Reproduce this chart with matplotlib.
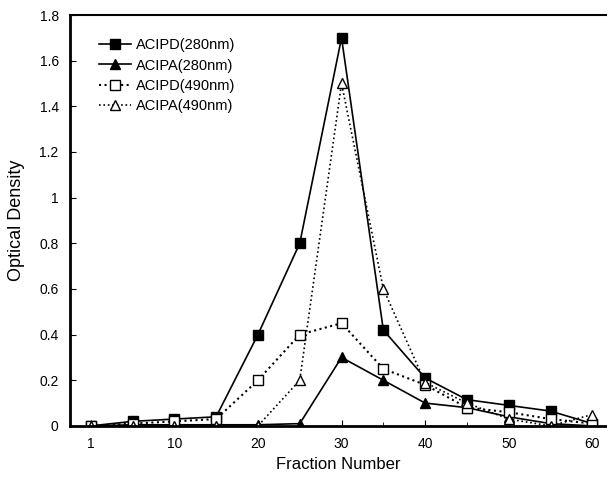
import matplotlib.pyplot as plt

plt.rcParams['font.family'] = ['Liberation Sans', 'DejaVu Sans']

fractions = [1, 5, 10, 15, 20, 25, 30, 35, 40, 45, 50, 55, 60]
tick_labels = ['1', '10', '20', '30', '40', '50', '60']

acipd_280 = [0.0, 0.02, 0.03, 0.04, 0.40, 0.80, 1.70, 0.42, 0.21, 0.115, 0.09, 0.065, 0.01]
acipa_280 = [0.0, 0.005, 0.005, 0.005, 0.005, 0.01, 0.30, 0.20, 0.10, 0.08, 0.04, 0.01, 0.0]
acipd_490 = [0.0, 0.01, 0.02, 0.03, 0.20, 0.40, 0.45, 0.25, 0.18, 0.08, 0.06, 0.03, 0.01]
acipa_490 = [0.0, 0.0, 0.0, 0.0, 0.0, 0.20, 1.50, 0.60, 0.19, 0.10, 0.03, 0.0, 0.05]

fig = plt.figure(figsize=(6.07, 4.84), dpi=100)
ax = fig.add_axes([0.115, 0.12, 0.885, 0.849])

x = list(range(len(fractions)))
ax.plot(x, acipd_280, '-', color='black', lw=1.2, marker='s', ms=7.5,
        mfc='black', label='ACIPD(280nm)')
ax.plot(x, acipa_280, '-', color='black', lw=1.2, marker='^', ms=7.5,
        mfc='black', label='ACIPA(280nm)')
ax.plot(x, acipd_490, ':', color='black', lw=1.5, marker='s', ms=7.5,
        mfc='white', label='ACIPD(490nm)')
ax.plot(x, acipa_490, ':', color='black', lw=1.2, marker='^', ms=7.5,
        mfc='white', label='ACIPA(490nm)')

ax.set_xlim(-0.5, 12.35)
ax.set_ylim(0, 1.8)
ax.set_xticks(x[::2])
ax.set_xticklabels(tick_labels)
ax.set_xticks(x, minor=True)
ax.set_yticks([0, 0.2, 0.4, 0.6, 0.8, 1.0, 1.2, 1.4, 1.6, 1.8])
ax.set_yticklabels(['0', '0.2', '0.4', '0.6', '0.8', '1', '1.2', '1.4', '1.6', '1.8'])
ax.tick_params(direction='in', labelsize=10, length=4, width=0.8)
ax.tick_params(axis='x', which='minor', direction='in', length=3)
ax.tick_params(axis='y', pad=8)
ax.tick_params(axis='x', pad=8)

for s in ['left', 'bottom']:
    ax.spines[s].set_linewidth(2)
ax.spines['top'].set_linewidth(1.5)
ax.spines['right'].set_visible(False)

ax.set_xlabel('Fraction Number', fontsize=12, labelpad=4)
ax.set_ylabel('Optical Density', fontsize=13, labelpad=10)

ax.legend(loc='upper left', bbox_to_anchor=(0.03, 0.975), frameon=False,
          fontsize=10.5, handlelength=2.2, handletextpad=0.3, labelspacing=0.42,
          markerscale=0.9)

fig.savefig('out.png', dpi=100)
